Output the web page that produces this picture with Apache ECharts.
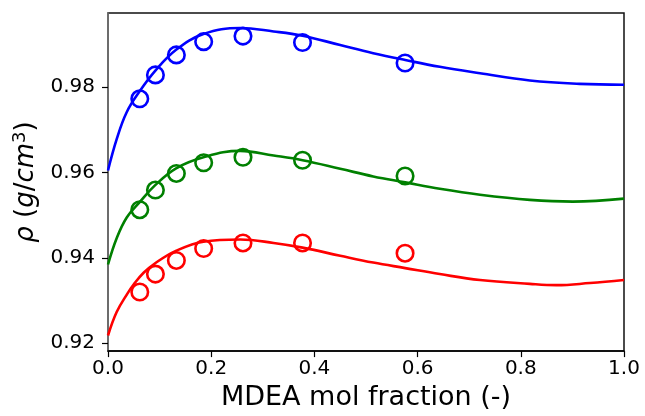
<!DOCTYPE html>
<html><head><meta charset="utf-8">
<script src="https://cdn.jsdelivr.net/npm/echarts@6/dist/echarts.min.js"></script>
<style>html,body{margin:0;padding:0;background:#fff}#c{width:645px;height:416px}</style>
</head><body><div id="c"></div>
<script>
// Experimental points (x = MDEA mol fraction)
const expX = [0.0616, 0.0919, 0.1325, 0.1854, 0.2616, 0.377, 0.5757];
const expBlue  = [0.9773, 0.9829, 0.9876, 0.9907, 0.9920, 0.9905, 0.9857];
const expGreen = [0.9513, 0.9559, 0.9598, 0.9623, 0.9636, 0.9629, 0.9592];
const expRed   = [0.9320, 0.9362, 0.9394, 0.9422, 0.9435, 0.9435, 0.9411];

// Model curves
const fitBlueX  = [0, 0.017, 0.036, 0.061, 0.091, 0.132, 0.185, 0.256, 0.321, 0.377, 0.450, 0.514, 0.576, 0.643, 0.721, 0.8175, 0.914, 1.0];
const fitBlueY  = [0.9605, 0.9679, 0.9741, 0.9790, 0.9838, 0.9888, 0.9925, 0.9939, 0.9931, 0.9921, 0.9899, 0.9880, 0.9864, 0.9848, 0.9833, 0.9816, 0.9808, 0.9806];
const fitGreenX = [0, 0.0168, 0.036, 0.061, 0.091, 0.132, 0.185, 0.256, 0.321, 0.377, 0.450, 0.514, 0.576, 0.643, 0.721, 0.8175, 0.901, 1.0];
const fitGreenY = [0.93845, 0.9446, 0.9494, 0.9530, 0.9570, 0.9610, 0.9636, 0.9651, 0.9640, 0.9629, 0.9609, 0.9591, 0.9577, 0.9562, 0.9548, 0.9536, 0.9532, 0.9539];
const fitRedX   = [0, 0.0168, 0.037, 0.050, 0.069, 0.092, 0.1325, 0.185, 0.256, 0.321, 0.377, 0.450, 0.514, 0.576, 0.643, 0.721, 0.8175, 0.869, 0.934, 1.0];
const fitRedY   = [0.9218, 0.9273, 0.9315, 0.9338, 0.9365, 0.9388, 0.9417, 0.9438, 0.9443, 0.9435, 0.9424, 0.9405, 0.9389, 0.9376, 0.9362, 0.9348, 0.9339, 0.9336, 0.9341, 0.9348];

const yTicks = [0.92, 0.94, 0.96, 0.98];

const zip = (xs, ys) => xs.map((x, i) => [x, ys[i]]);
const font = 'DejaVu Sans';

const lineS = (name, xs, ys, color) => ({
  name, type: 'line', data: zip(xs, ys), smooth: 0.4, showSymbol: false,
  lineStyle: { color, width: 2.6 }, z: 2, silent: true
});
const scatS = (name, ys, color) => ({
  name, type: 'scatter', data: zip(expX, ys), symbol: 'circle', symbolSize: 16.5,
  itemStyle: { color: 'rgba(0,0,0,0)', borderColor: color, borderWidth: 2.6, opacity: 1 }, z: 3
});

const chart = echarts.init(document.getElementById('c'), null, { renderer: 'canvas' });
chart.setOption({
  animation: false,
  backgroundColor: '#fff',
  grid: { left: 108, right: 21, top: 13, bottom: 62, show: true, borderColor: '#111', borderWidth: 1.5, backgroundColor: 'transparent' },
  xAxis: {
    type: 'value', min: 0, max: 1, interval: 0.2,
    name: 'MDEA mol fraction (-)', nameLocation: 'middle', nameGap: 30,
    nameTextStyle: { fontFamily: font, fontSize: 27, color: '#000' },
    axisLine: { show: true, onZero: false, lineStyle: { color: '#000', width: 1.5 } },
    axisTick: { show: true, inside: false, length: 6, lineStyle: { color: '#000', width: 1.2 } },
    axisLabel: { fontFamily: font, fontSize: 20, color: '#000', margin: 8, formatter: v => v.toFixed(1) },
    splitLine: { show: false }
  },
  yAxis: {
    type: 'value', min: 0.91814, max: 0.99742,
    name: '{i|ρ} {n|(}{i|g}{n|/}{i|cm}{s|3}{n|)}', nameLocation: 'middle', nameGap: 62, nameRotate: 90,
    nameTextStyle: {
      fontFamily: font, fontSize: 26, color: '#000',
      rich: {
        i: { fontFamily: font, fontSize: 26, fontStyle: 'italic', color: '#000' },
        n: { fontFamily: font, fontSize: 26, color: '#000' },
        s: { fontFamily: font, fontSize: 18, color: '#000', verticalAlign: 'top', padding: [0, 0, 12, 0] }
      }
    },
    axisLine: { show: true, onZero: false, lineStyle: { color: '#777', width: 1.5 } },
    axisTick: { show: true, inside: false, length: 6, customValues: yTicks, lineStyle: { color: '#000', width: 1.2 } },
    axisLabel: { fontFamily: font, fontSize: 20, color: '#000', margin: 13, customValues: yTicks, formatter: v => v.toFixed(2) },
    splitLine: { show: false }
  },
  series: [
    lineS('fitBlue', fitBlueX, fitBlueY, '#0000ff'),
    lineS('fitGreen', fitGreenX, fitGreenY, '#008000'),
    lineS('fitRed', fitRedX, fitRedY, '#ff0000'),
    scatS('expBlue', expBlue, '#0000ff'),
    scatS('expGreen', expGreen, '#008000'),
    scatS('expRed', expRed, '#ff0000')
  ]
});
</script></body></html>
